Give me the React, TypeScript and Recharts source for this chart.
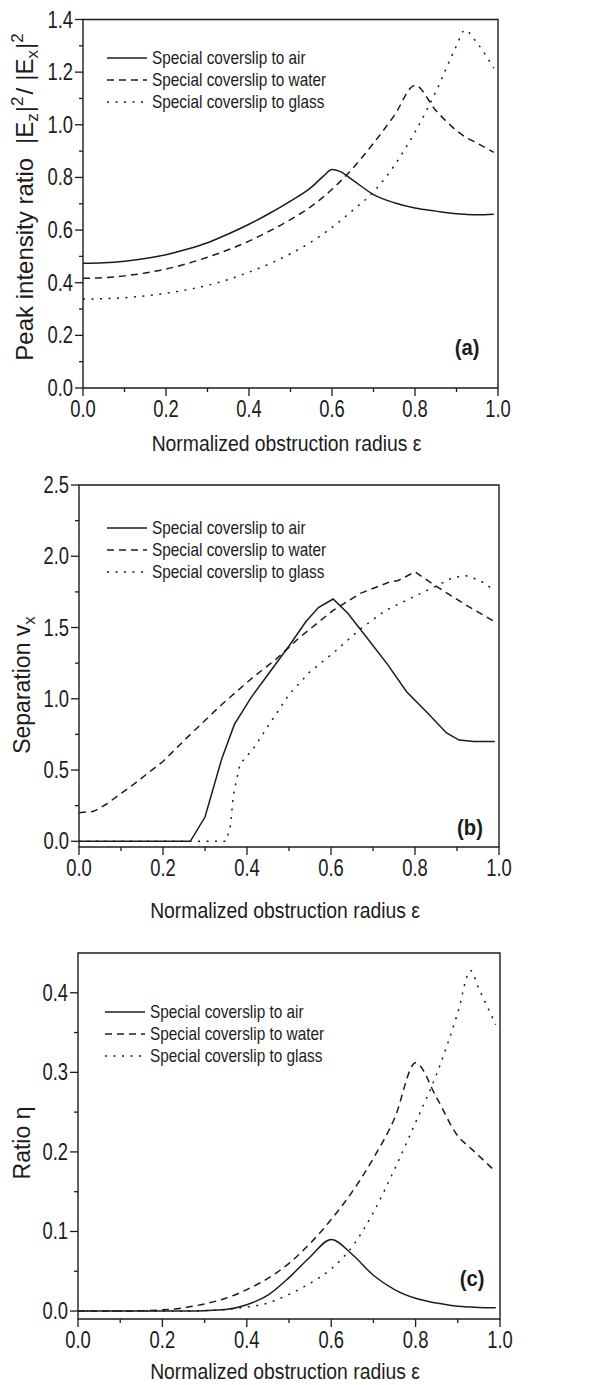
import React from "react";
import { LineChart, Line, XAxis, YAxis, Legend, ReferenceArea } from "recharts";

const FONT = "'Liberation Sans', Arial, sans-serif";
const INK = "#1c1c1c";

const seriesNames = [
  "Special coverslip to air",
  "Special coverslip to water",
  "Special coverslip to glass",
];

const xLabelTicks = [0, 0.2, 0.4, 0.6, 0.8, 1.0];
const xMinorTicks = [0.1, 0.3, 0.5, 0.7, 0.9];

// (a) peak intensity ratio
const epsA = [0, 0.05, 0.1, 0.15, 0.2, 0.25, 0.3, 0.35, 0.4, 0.45, 0.5, 0.55, 0.58, 0.6, 0.62, 0.65, 0.7, 0.75, 0.8, 0.85, 0.9, 0.92, 0.95, 0.99];
const airA = [0.474, 0.476, 0.482, 0.492, 0.506, 0.527, 0.552, 0.585, 0.622, 0.664, 0.71, 0.762, 0.806, 0.83, 0.822, 0.79, 0.735, 0.704, 0.684, 0.672, 0.662, 0.66, 0.658, 0.66];
const waterA = [0.417, 0.419, 0.426, 0.437, 0.452, 0.472, 0.497, 0.525, 0.558, 0.597, 0.64, 0.69, 0.727, 0.755, 0.785, 0.835, 0.93, 1.035, 1.15, 1.055, 0.978, 0.955, 0.93, 0.895];
const glassA = [0.338, 0.339, 0.343, 0.35, 0.36, 0.373, 0.39, 0.412, 0.44, 0.472, 0.51, 0.555, 0.587, 0.61, 0.635, 0.675, 0.745, 0.845, 0.972, 1.125, 1.3, 1.36, 1.31, 1.215];
const yLabelTicksA = [0, 0.2, 0.4, 0.6, 0.8, 1.0, 1.2, 1.4];
const yMinorTicksA = [0.1, 0.3, 0.5, 0.7, 0.9, 1.1, 1.3];

// (b) separation
const epsAirB = [0, 0.1, 0.2, 0.265, 0.3, 0.34, 0.37, 0.41, 0.45, 0.5, 0.54, 0.57, 0.605, 0.64, 0.685, 0.735, 0.78, 0.83, 0.875, 0.905, 0.94, 0.99];
const airB = [0, 0, 0, 0, 0.17, 0.58, 0.82, 1.01, 1.17, 1.37, 1.54, 1.64, 1.7, 1.6, 1.43, 1.24, 1.05, 0.9, 0.76, 0.71, 0.7, 0.7];
const epsWaterB = [0, 0.035, 0.065, 0.13, 0.2, 0.265, 0.34, 0.41, 0.47, 0.525, 0.605, 0.67, 0.74, 0.76, 0.8, 0.845, 0.92, 0.99];
const waterB = [0.2, 0.21, 0.26, 0.4, 0.56, 0.75, 0.96, 1.14, 1.28, 1.43, 1.62, 1.74, 1.82, 1.83, 1.89, 1.8, 1.66, 1.54];
const epsGlassB = [0, 0.2, 0.35, 0.36, 0.368, 0.383, 0.415, 0.455, 0.5, 0.55, 0.605, 0.67, 0.73, 0.8, 0.85, 0.89, 0.92, 0.955, 0.99];
const glassB = [0, 0, 0, 0.1, 0.33, 0.54, 0.65, 0.83, 1.03, 1.19, 1.32, 1.49, 1.62, 1.72, 1.79, 1.85, 1.865, 1.83, 1.76];
const yLabelTicksB = [0, 0.5, 1.0, 1.5, 2.0, 2.5];
const yMinorTicksB = [0.25, 0.75, 1.25, 1.75, 2.25];

// (c) ratio eta
const epsC = [0, 0.1, 0.15, 0.2, 0.25, 0.3, 0.35, 0.4, 0.45, 0.5, 0.55, 0.6, 0.65, 0.7, 0.75, 0.8, 0.85, 0.9, 0.93, 0.95, 0.99];
const airC = [0, 0, 0, 0, 0, 0.0005, 0.002, 0.008, 0.02, 0.042, 0.068, 0.09, 0.071, 0.045, 0.027, 0.016, 0.01, 0.006, 0.005, 0.0045, 0.004];
const waterC = [0, 0, 0.0003, 0.0015, 0.004, 0.009, 0.016, 0.027, 0.041, 0.06, 0.085, 0.115, 0.15, 0.192, 0.242, 0.312, 0.268, 0.22, 0.205, 0.195, 0.175];
const glassC = [0, 0, 0, 0, 0, 0.0005, 0.002, 0.005, 0.01, 0.021, 0.035, 0.053, 0.081, 0.124, 0.178, 0.237, 0.298, 0.375, 0.428, 0.405, 0.36];
const yLabelTicksC = [0, 0.1, 0.2, 0.3, 0.4];
const yMinorTicksC = [0.05, 0.15, 0.25, 0.35];

const DASHES = [undefined, "7 5", "2 6.5"];

const toPoints = (xs: number[], ys: number[]) => xs.map((x, i) => ({ x, y: ys[i] }));
const has = (list: number[], v: number) => list.some((t) => Math.abs(t - v) < 1e-9);
const merge = (a: number[], b: number[]) => [...a, ...b].sort((p, q) => p - q);

// the source figure is slightly stretched vertically, so horizontal text is squeezed
function SText(props: {
  x: number;
  y: number;
  sx?: number;
  size: number;
  anchor?: "start" | "middle" | "end";
  bold?: boolean;
  children: React.ReactNode;
}) {
  return (
    <text
      transform={`translate(${props.x},${props.y}) scale(${props.sx ?? 1},1)`}
      textAnchor={props.anchor ?? "middle"}
      fontSize={props.size}
      fontWeight={props.bold ? "bold" : "normal"}
      fill={INK}
      fontFamily={FONT}
    >
      {props.children}
    </text>
  );
}

type PanelProps = {
  top: number;
  height: number;
  plot: { left: number; top: number; right: number; bottom: number };
  yDomain: [number, number];
  yLabelTicks: number[];
  yMinorTicks: number[];
  lines: { x: number; y: number }[][];
  curve: "monotone" | "linear";
  yTitle: React.ReactNode;
  yTitleAt: [number, number];
  xTitleDy: number;
  legendAt: [number, number];
  tag: string;
  tagAt: [number, number];
};

function XTick(props: any) {
  const { x, y, payload } = props;
  const major = has(xLabelTicks, payload.value);
  return (
    <g>
      <line x1={x} x2={x} y1={y} y2={y + (major ? 8 : 4)} stroke={INK} strokeWidth={1.3} />
      {major && (
        <SText x={x} y={y + 29} sx={0.8} size={23}>
          {payload.value.toFixed(1)}
        </SText>
      )}
    </g>
  );
}

function makeYTick(labels: number[]) {
  return (props: any) => {
    const { x, y, payload } = props;
    const major = has(labels, payload.value);
    return (
      <g>
        <line x1={x} x2={x - (major ? 8 : 4)} y1={y} y2={y} stroke={INK} strokeWidth={1.3} />
        {major && (
          <SText x={x - 10} y={y + 8} sx={0.8} size={23} anchor="end">
            {payload.value.toFixed(1)}
          </SText>
        )}
      </g>
    );
  };
}

function LegendBox() {
  return (
    <div style={{ fontFamily: FONT, fontSize: 18.5, color: INK }}>
      {seriesNames.map((name, i) => (
        <div key={name} style={{ display: "flex", alignItems: "center", height: 22, whiteSpace: "nowrap" }}>
          <svg width={45} height={10}>
            <line x1={0} x2={40} y1={5} y2={5} stroke={INK} strokeWidth={1.3} strokeDasharray={DASHES[i]} />
          </svg>
          <span
            style={{
              display: "inline-block",
              lineHeight: "22px",
              transform: "scaleX(0.83)",
              transformOrigin: "0 50%",
            }}
          >
            {name}
          </span>
        </div>
      ))}
    </div>
  );
}

function Panel(p: PanelProps) {
  const W = 616;
  const xAxisH = p.height - p.plot.bottom;
  const YTick = makeYTick(p.yLabelTicks);
  return (
    <div style={{ position: "absolute", left: 0, top: p.top }}>
      <LineChart
        width={W}
        height={p.height}
        margin={{ top: p.plot.top, right: W - p.plot.right, bottom: 0, left: 0 }}
      >
        <XAxis
          dataKey="x"
          type="number"
          domain={[0, 1]}
          ticks={merge(xLabelTicks, xMinorTicks)}
          interval={0}
          allowDataOverflow
          axisLine={false}
          tickLine={false}
          tickSize={0}
          tickMargin={0}
          height={xAxisH}
          tick={<XTick />}
          label={{
            content: (lp: any) => {
              const vb = lp.viewBox;
              return (
                <SText x={vb.x + vb.width / 2 - 4} y={vb.y + p.xTitleDy} sx={0.9} size={21.5}>
                  Normalized obstruction radius ε
                </SText>
              );
            },
          }}
        />
        <YAxis
          type="number"
          domain={p.yDomain}
          ticks={merge(p.yLabelTicks, p.yMinorTicks)}
          interval={0}
          allowDataOverflow
          axisLine={false}
          tickLine={false}
          tickSize={0}
          tickMargin={0}
          width={p.plot.left}
          tick={<YTick />}
          label={{
            content: () => (
              <text
                transform={`translate(${p.yTitleAt[0]},${p.yTitleAt[1]}) rotate(-90)`}
                textAnchor="middle"
                fontSize={23}
                fill={INK}
                fontFamily={FONT}
              >
                {p.yTitle}
              </text>
            ),
          }}
        />
        <ReferenceArea
          x1={0}
          x2={1}
          y1={p.yDomain[0]}
          y2={p.yDomain[1]}
          fill="none"
          stroke={INK}
          strokeWidth={1.4}
          ifOverflow="visible"
          label={{
            content: () => (
              <SText x={p.tagAt[0]} y={p.tagAt[1]} sx={0.92} size={22} bold>
                {p.tag}
              </SText>
            ),
          }}
        />
        {p.lines.map((pts, i) => (
          <Line
            key={seriesNames[i]}
            name={seriesNames[i]}
            data={pts}
            dataKey="y"
            type={p.curve}
            stroke={INK}
            strokeWidth={1.5}
            strokeDasharray={DASHES[i]}
            dot={false}
            activeDot={false}
            isAnimationActive={false}
          />
        ))}
        <Legend
          layout="vertical"
          align="center"
          verticalAlign="middle"
          content={() => <LegendBox />}
          wrapperStyle={{ left: p.legendAt[0], top: p.legendAt[1], width: "auto", height: "auto" }}
        />
      </LineChart>
    </div>
  );
}

const sub = (t: string) => (
  <tspan fontSize={17} dy={5}>
    {t}
  </tspan>
);

export default function App() {
  const yTitleA = (
    <>
      <tspan fontSize={24}>Peak intensity ratio</tspan>
      <tspan dx={14} fontSize={24}>|E</tspan>
      {sub("z")}
      <tspan dy={-5} dx={1} fontSize={24}>|</tspan>
      <tspan fontSize={17} dy={-10}>2</tspan>
      <tspan dy={10} dx={2} fontSize={24}>/</tspan>
      <tspan dx={7} fontSize={24}>|E</tspan>
      {sub("x")}
      <tspan dy={-5} dx={1} fontSize={24}>|</tspan>
      <tspan fontSize={17} dy={-10}>2</tspan>
    </>
  );
  const yTitleB = (
    <>
      <tspan>Separation v</tspan>
      {sub("x")}
    </>
  );
  return (
    <div style={{ position: "absolute", left: 0, top: 0, width: 616, height: 1385, background: "#fff" }}>
      <Panel
        top={0}
        height={460}
        plot={{ left: 83, top: 19.5, right: 498, bottom: 388 }}
        yDomain={[0, 1.4]}
        yLabelTicks={yLabelTicksA}
        yMinorTicks={yMinorTicksA}
        lines={[toPoints(epsA, airA), toPoints(epsA, waterA), toPoints(epsA, glassA)]}
        curve="monotone"
        yTitle={yTitleA}
        yTitleAt={[33, 197]}
        xTitleDy={63}
        legendAt={[107, 47]}
        tag="(a)"
        tagAt={[467, 355]}
      />
      <Panel
        top={460}
        height={470}
        plot={{ left: 79, top: 25, right: 499, bottom: 387 }}
        yDomain={[-0.04, 2.5]}
        yLabelTicks={yLabelTicksB}
        yMinorTicks={yMinorTicksB}
        lines={[toPoints(epsAirB, airB), toPoints(epsWaterB, waterB), toPoints(epsGlassB, glassB)]}
        curve="linear"
        yTitle={yTitleB}
        yTitleAt={[30, 225]}
        xTitleDy={71}
        legendAt={[107, 57]}
        tag="(b)"
        tagAt={[470, 375]}
      />
      <Panel
        top={930}
        height={455}
        plot={{ left: 78, top: 23, right: 500, bottom: 389 }}
        yDomain={[-0.01, 0.45]}
        yLabelTicks={yLabelTicksC}
        yMinorTicks={yMinorTicksC}
        lines={[toPoints(epsC, airC), toPoints(epsC, waterC), toPoints(epsC, glassC)]}
        curve="monotone"
        yTitle="Ratio η"
        yTitleAt={[30, 213]}
        xTitleDy={60}
        legendAt={[105, 71]}
        tag="(c)"
        tagAt={[472, 356]}
      />
    </div>
  );
}
